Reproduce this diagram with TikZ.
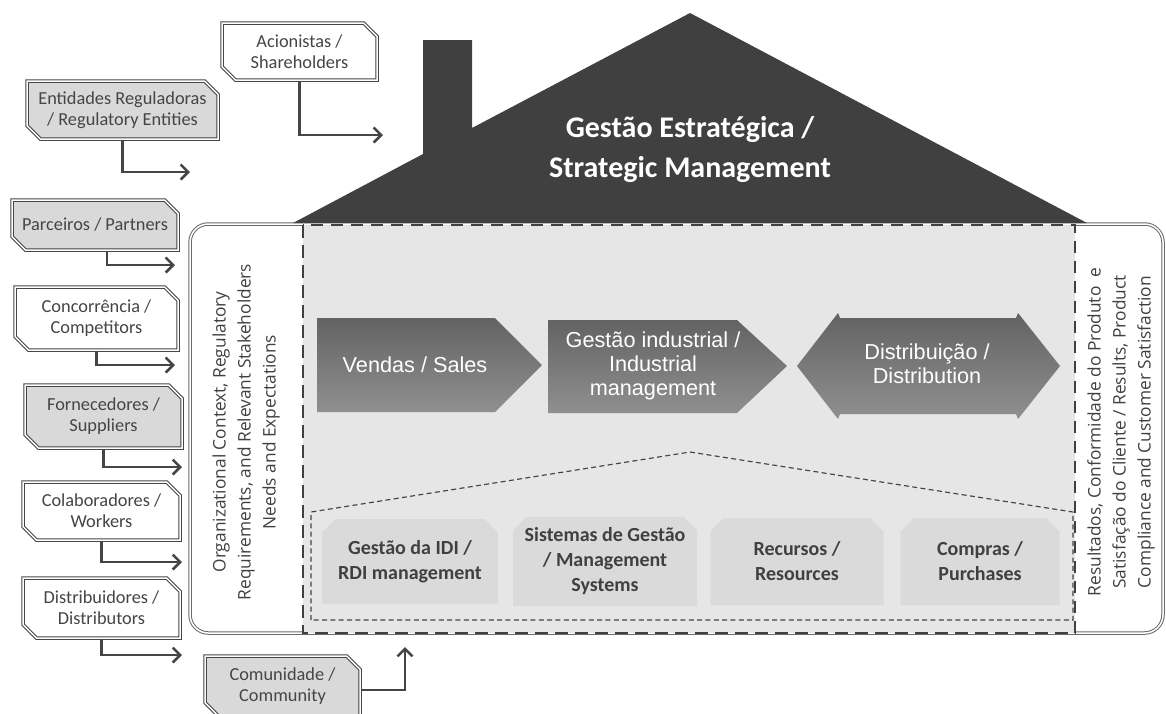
\documentclass[tikz,border=0pt]{standalone}
\usepackage{fontspec}
\setmainfont{Carlito}
\newfontfamily\arialfont{Liberation Sans}
\newfontfamily\sidefont{Open Sans}
\usetikzlibrary{arrows.meta,shapes.misc,calc}
\definecolor{croof}{HTML}{404040}
\definecolor{cbody}{HTML}{E6E6E6}
\definecolor{cbox}{HTML}{D9D9D9}
\definecolor{cunit}{HTML}{DADADA}
\definecolor{cline}{HTML}{454545}
\definecolor{cproc}{HTML}{747474}

\begin{document}
\begin{tikzpicture}[
  x=0.6pt, y=-0.6pt,
  stake/.style={chamfered rectangle, chamfered rectangle corners={north east,south west},
                chamfered rectangle xsep=4pt, chamfered rectangle ysep=4pt,
                draw=cline, line width=0.6pt, double=white, double distance=0.9pt,
                fill=white, inner sep=0pt, align=center, text=cline,
                font=\fontsize{11}{12.6}\selectfont},
  grey/.style={fill=cbox},
  unit/.style={chamfered rectangle, chamfered rectangle corners={north west,north east},
               chamfered rectangle xsep=4pt, chamfered rectangle ysep=4pt,
               fill=cunit, inner sep=0pt, align=center, text=croof,
               font=\bfseries\fontsize{12}{15}\selectfont},
  proc/.style={top color=cproc!85!black, bottom color=cproc!80!white},
  ptext/.style={text=white, align=center, font=\arialfont\fontsize{13}{14.5}\selectfont},
  side/.style={rotate=90, align=center, text=croof, font=\sidefont\fontsize{10.4}{15}\selectfont},
  arr/.style={-{Straight Barb[length=4.5pt,width=9pt,line width=1.5pt]}, line width=1.5pt, draw=cline}
]
\useasboundingbox (0,0) rectangle (1166,713);

% Body of the house
\draw[draw=cline!80, line width=0.6pt, double=white, double distance=0.9pt, rounded corners=11pt]
  (190,224) rectangle (1163,633);
\fill[cbody] (303,225) rectangle (1075,633);
\draw[draw=croof, line width=1.6pt, dash pattern=on 7.5pt off 4.5pt] (303,225) rectangle (1075,633);

% Roof and chimney
\fill[croof] (293,223) -- (423,154) -- (423,40) -- (472,40) -- (472,128) -- (690,13) -- (1087,223) -- cycle;
\node[text=white, align=center, font=\bfseries\fontsize{18}{24}\selectfont] (roof) at (690,150)
  {Gestão Estratégica /\\Strategic Management};

% Side panels
\node[side] (ctx) at (246,432)
  {Organizational Context, Regulatory\\Requirements, and Relevant Stakeholders\\Needs and Expectations};
\node[side] (res) at (1121,432)
  {Resultados, Conformidade do Produto\ \ e\\Satisfação do Cliente / Results, Product\\Compliance and Customer Satisfaction};

% Main processes
\shade[proc] (317,318) -- (495,318) -- (542,365) -- (495,412) -- (317,412) -- cycle;
\shade[proc] (548,320) -- (737,320) -- (787,366) -- (737,413) -- (548,413) -- cycle;
\shade[proc] (797,366) -- (838,313) -- (840,318) -- (1016,318) -- (1018,313) -- (1060,366)
  -- (1018,419) -- (1016,414) -- (840,414) -- (838,419) -- cycle;
\node[ptext] (sales) at (415,365) {Vendas / Sales};
\node[ptext] (indus) at (653,366) {Gestão industrial /\\Industrial\\management};
\node[ptext] (distr) at (927,364) {Distribuição /\\Distribution};

% Support processes
\draw[cline, line width=0.7pt, dash pattern=on 3pt off 2pt]
  (311,620) -- (311,512) -- (690,452) -- (1073,512) -- (1073,620) -- cycle;
\node[unit, minimum width=105.6pt, minimum height=51pt] (idi) at (410,561.5) {Gestão da IDI /\\RDI management};
\node[unit, minimum width=110.4pt, minimum height=53.4pt] (sgm) at (605,561.5) {Sistemas de Gestão\\/ Management\\Systems};
\node[unit, minimum width=103.8pt, minimum height=52.2pt] (rec) at (797,561.5) {Recursos /\\Resources};
\node[unit, minimum width=95.4pt, minimum height=52.2pt] (comp) at (980,561.5) {Compras /\\Purchases};

% Stakeholders
\node[stake, minimum width=93pt, minimum height=34.2pt] (ac) at (299.5,51.5) {Acionistas /\\Shareholders};
\node[stake, grey, minimum width=114.6pt, minimum height=34.8pt] (ent) at (122.5,110) {Entidades Reguladoras\\/ Regulatory Entities};
\node[stake, grey, minimum width=99.6pt, minimum height=30pt] (par) at (95,225) {Parceiros / Partners};
\node[stake, minimum width=97.8pt, minimum height=37.8pt] (con) at (96.5,318.5) {Concorrência /\\Competitors};
\node[stake, grey, minimum width=94.2pt, minimum height=37.8pt] (forn) at (103.5,416.5) {Fornecedores /\\Suppliers};
\node[stake, minimum width=94.2pt, minimum height=34.8pt] (col) at (101.5,511) {Colaboradores /\\Workers};
\node[stake, minimum width=94.2pt, minimum height=36pt] (dis) at (101.5,608) {Distribuidores /\\Distributors};
\node[stake, grey, minimum width=93pt, minimum height=36pt] (com) at (282.5,686) {Comunidade /\\Community};

% Arrow targets
\coordinate (acT) at (383,135);
\coordinate (entT) at (190,172);
\coordinate (parT) at (175,265);
\coordinate (conT) at (175,365);
\coordinate (fornT) at (182,467);
\coordinate (colT) at (182,562);
\coordinate (disT) at (182,655);
\coordinate (comT) at (405,647);

% Arrows
\draw[arr] (ac.south) |- (acT);
\draw[arr] (ent.south) |- (entT);
\draw[arr] ([xshift=7.2pt]par.south) |- (parT);
\draw[arr] (con.south) |- (conT);
\draw[arr] (forn.south) |- (fornT);
\draw[arr] (col.south) |- (colT);
\draw[arr] (dis.south) |- (disT);
\draw[arr] ([yshift=-2.4pt]com.east) -| (comT);

\end{tikzpicture}
\end{document}
